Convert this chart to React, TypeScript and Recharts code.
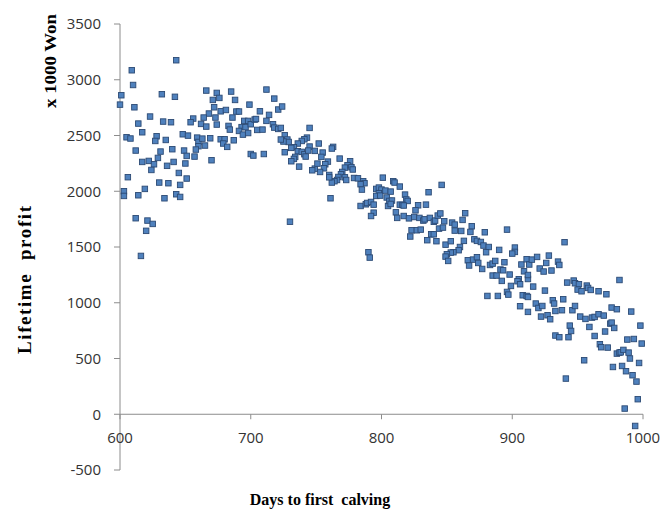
import { ScatterChart, Scatter, XAxis, YAxis, ReferenceLine } from "recharts";

// days to first calving (x) and lifetime profit in 1000 Won (y)
const DAYS = [
  643, 609, 610, 601, 600, 611, 632, 642, 666, 674, 676, 671, 685, 688, 699, 672, 677, 681, 668, 689,
  691, 686, 673, 664, 656, 654, 662, 666, 674, 683, 684, 695, 698, 693, 696, 691, 694, 698, 700, 703,
  623, 614, 633, 639, 617, 605, 608, 628, 627, 635, 648, 652, 659, 660, 663, 665, 660, 669, 677, 680,
  679, 682, 687, 640, 631, 612, 649, 651, 658, 657, 670, 700, 702, 629, 617, 622, 626, 641, 636, 650,
  624, 645, 606, 651, 630, 637, 646, 619, 603, 603, 614, 634, 643, 646, 612, 621, 625, 620, 616,
  712, 718, 707, 721, 724, 714, 704, 712, 717, 718, 721, 723, 705, 709, 745, 726, 728, 729, 725, 723,
  710, 726, 743, 741, 739, 736, 733, 731, 745, 752, 763, 762, 736, 739, 741, 742, 744, 749, 755, 754,
  734, 733, 731, 737, 759, 757, 756, 753, 749, 747, 751, 768, 776, 774, 777, 778, 772, 770, 769, 767,
  766, 764, 762, 760, 760, 772, 773, 779, 782, 786, 787, 784, 785, 761, 784, 788, 789, 792, 794, 794,
  792, 801, 796, 798, 800, 798, 796, 799, 803, 804, 805, 806, 807, 809, 730, 790, 791,
  810, 814, 808, 807, 846, 836, 818, 819, 820, 814, 816, 817, 828, 834, 826, 811, 812, 817, 821, 825,
  829, 832, 833, 837, 840, 841, 843, 845, 823, 827, 830, 822, 838, 840, 835, 842, 844, 847, 848, 854,
  856, 864, 862, 856, 861, 869, 868, 879, 896, 849, 853, 863, 871, 873, 876, 878, 882, 860, 859, 855,
  853, 850, 849, 851, 880, 890, 902, 902, 900, 866, 867, 870, 873, 874, 877, 883, 885, 887, 891, 893,
  894, 898, 885, 888, 892, 899, 896, 897, 905, 904, 906, 881, 889, 907, 909, 911, 913, 912, 912, 908,
  911, 906, 912,
  940, 915, 919, 928, 926, 935, 936, 930, 921, 924, 942, 947, 948, 951, 950, 953, 957, 958, 960, 966,
  972, 982, 916, 925, 912, 939, 931, 932, 918, 920, 923, 922, 927, 929, 933, 938, 946, 948, 952, 956,
  959, 963, 961, 963, 966, 970, 971, 975, 976, 978, 976, 980, 991, 998, 999, 944, 945, 933, 936, 943,
  967, 968, 973, 980, 982, 983, 985, 988, 993, 989, 990, 997, 955, 977, 984, 987, 992, 995, 941, 996,
  986, 994,
];

const PROFIT = [
  3175, 3085, 2953, 2861, 2777, 2753, 2870, 2847, 2903, 2882, 2837, 2819, 2894, 2819, 2777, 2753, 2717, 2729, 2697, 2715,
  2715, 2661, 2661, 2661, 2652, 2619, 2604, 2580, 2598, 2586, 2553, 2631, 2631, 2575, 2575, 2541, 2508, 2522, 2601, 2643,
  2670, 2607, 2625, 2619, 2529, 2484, 2473, 2493, 2451, 2460, 2511, 2499, 2481, 2442, 2472, 2410, 2404, 2475, 2466, 2466,
  2428, 2398, 2457, 2377, 2356, 2365, 2365, 2317, 2374, 2311, 2278, 2334, 2320, 2299, 2263, 2272, 2242, 2263, 2228, 2249,
  2191, 2164, 2126, 2114, 2078, 2072, 2057, 2021, 2000, 1958, 1964, 1937, 1973, 1949, 1758, 1737, 1707, 1645, 1420,
  2912, 2831, 2717, 2733, 2760, 2685, 2648, 2631, 2601, 2571, 2559, 2568, 2550, 2553, 2568, 2502, 2464, 2442, 2446, 2464,
  2334, 2350, 2481, 2466, 2451, 2428, 2395, 2389, 2401, 2428, 2398, 2383, 2359, 2353, 2332, 2311, 2365, 2362, 2347, 2308,
  2308, 2290, 2269, 2221, 2266, 2242, 2206, 2173, 2203, 2188, 2248, 2293, 2269, 2233, 2215, 2195, 2212, 2173, 2152, 2128,
  2101, 2090, 2078, 2146, 2125, 2125, 2101, 2119, 2116, 2090, 2072, 2063, 2015, 1937, 1868, 1883, 1895, 1904, 1880, 1808,
  1778, 2122, 2021, 2033, 2015, 1982, 1958, 1961, 2006, 1944, 1868, 1913, 1997, 2090, 1727, 1453, 1405,
  2078, 2042, 1917, 1886, 2057, 1991, 1970, 1926, 1913, 1880, 1877, 1872, 1874, 1880, 1829, 1811, 1761, 1778, 1757, 1769,
  1761, 1737, 1748, 1761, 1726, 1737, 1782, 1801, 1650, 1650, 1656, 1594, 1614, 1614, 1561, 1552, 1665, 1674, 1731, 1719,
  1701, 1803, 1743, 1647, 1644, 1686, 1635, 1632, 1656, 1521, 1552, 1555, 1569, 1555, 1545, 1513, 1500, 1500, 1471, 1453,
  1450, 1435, 1414, 1375, 1453, 1474, 1495, 1456, 1441, 1381, 1334, 1387, 1408, 1357, 1303, 1339, 1351, 1375, 1298, 1291,
  1363, 1253, 1244, 1244, 1196, 1151, 1097, 1073, 1211, 1193, 1166, 1061, 1061, 1343, 1282, 1390, 1343, 1213, 1249, 1067,
  1061, 969, 918,
  1543, 1387, 1411, 1423, 1357, 1369, 1339, 1289, 1307, 1280, 1181, 1199, 1175, 1166, 1118, 1103, 1154, 1133, 1115, 1103,
  1076, 1204, 1145, 1109, 1052, 1031, 1022, 993, 993, 953, 971, 876, 888, 852, 926, 933, 933, 971, 876, 855,
  783, 702, 867, 873, 897, 885, 742, 813, 822, 774, 957, 942, 921, 795, 634, 795, 747, 706, 691, 691,
  628, 601, 598, 544, 553, 556, 577, 670, 675, 553, 500, 460, 484, 424, 433, 386, 350, 293, 320, 135,
  51, -105,
];

const X_TICKS = [600, 700, 800, 900, 1000];
const Y_TICKS = [-500, 0, 500, 1000, 1500, 2000, 2500, 3000, 3500];

const W = 667;
const H = 520;
const M = { top: 24, right: 24, bottom: 0, left: 60 };
const X_AXIS_H = 50;
const Y_MIN = -500;
const Y_MAX = 3500;
const AXIS = "#8c8c8c";
const TICK_TEXT = "#333333";
const TICK_FONT = "'Open Sans', sans-serif";
const TITLE_FONT = "'Liberation Serif', 'Times New Roman', serif";

const data = DAYS.map((d, i) => ({ days: d, profit: PROFIT[i] }));

// distance from the bottom of the plot up to the y = 0 line
const ZERO_SHIFT = ((H - M.top - M.bottom - X_AXIS_H) * (0 - Y_MIN)) / (Y_MAX - Y_MIN);

function renderXTick(props: any) {
  const { x, y, payload } = props;
  const y0 = y - ZERO_SHIFT;
  return (
    <g key={`xt-${payload.value}`}>
      <line x1={x} x2={x} y1={y0} y2={y0 + 5} stroke={AXIS} />
      <text x={x} y={y0 + 18} dy="0.71em" textAnchor="middle" fill={TICK_TEXT} fontSize={15} fontFamily={TICK_FONT}>
        {payload.value}
      </text>
    </g>
  );
}

function Marker(props: any) {
  const { cx, cy } = props;
  return <rect x={cx - 2.75} y={cy - 2.75} width={5.5} height={5.5} fill="#4f81bd" stroke="#2c4a74" strokeWidth={0.9} />;
}

export default function App() {
  return (
    <div style={{ position: "absolute", left: 0, top: 0, width: W, height: H, background: "#fff" }}>
      <ScatterChart width={W} height={H} margin={M}>
        <XAxis
          type="number"
          dataKey="days"
          domain={[600, 1000]}
          ticks={X_TICKS}
          height={X_AXIS_H}
          axisLine={false}
          tickLine={false}
          tickSize={0}
          tickMargin={0}
          tick={renderXTick}
        />
        <YAxis
          type="number"
          dataKey="profit"
          domain={[Y_MIN, Y_MAX]}
          ticks={Y_TICKS}
          width={60}
          axisLine={{ stroke: AXIS }}
          tickLine={{ stroke: AXIS }}
          tickSize={6}
          tickMargin={13}
          tick={{ fill: TICK_TEXT, fontSize: 15, fontFamily: TICK_FONT }}
        />
        <ReferenceLine y={0} stroke={AXIS} />
        <Scatter data={data} shape={<Marker />} isAnimationActive={false} />
      </ScatterChart>
      <svg width={W} height={H} style={{ position: "absolute", left: 0, top: 0, pointerEvents: "none" }}>
        <text
          transform="translate(31,280) rotate(-90)"
          textAnchor="middle"
          fontFamily={TITLE_FONT}
          fontWeight="bold"
          fontSize={19}
          fill="#000"
          textLength={148}
          lengthAdjust="spacing"
          style={{ whiteSpace: "pre" }}
        >
          {"Lifetime  profit"}
        </text>
        <text
          transform="translate(56,61) rotate(-90)"
          textAnchor="middle"
          fontFamily={TITLE_FONT}
          fontWeight="bold"
          fontSize={16}
          fill="#000"
          textLength={94}
          lengthAdjust="spacingAndGlyphs"
        >
          x 1000 Won
        </text>
        <text
          x={320}
          y={505}
          textAnchor="middle"
          fontFamily={TITLE_FONT}
          fontWeight="bold"
          fontSize={16}
          fill="#000"
          style={{ whiteSpace: "pre" }}
        >
          {"Days to first  calving"}
        </text>
      </svg>
    </div>
  );
}
